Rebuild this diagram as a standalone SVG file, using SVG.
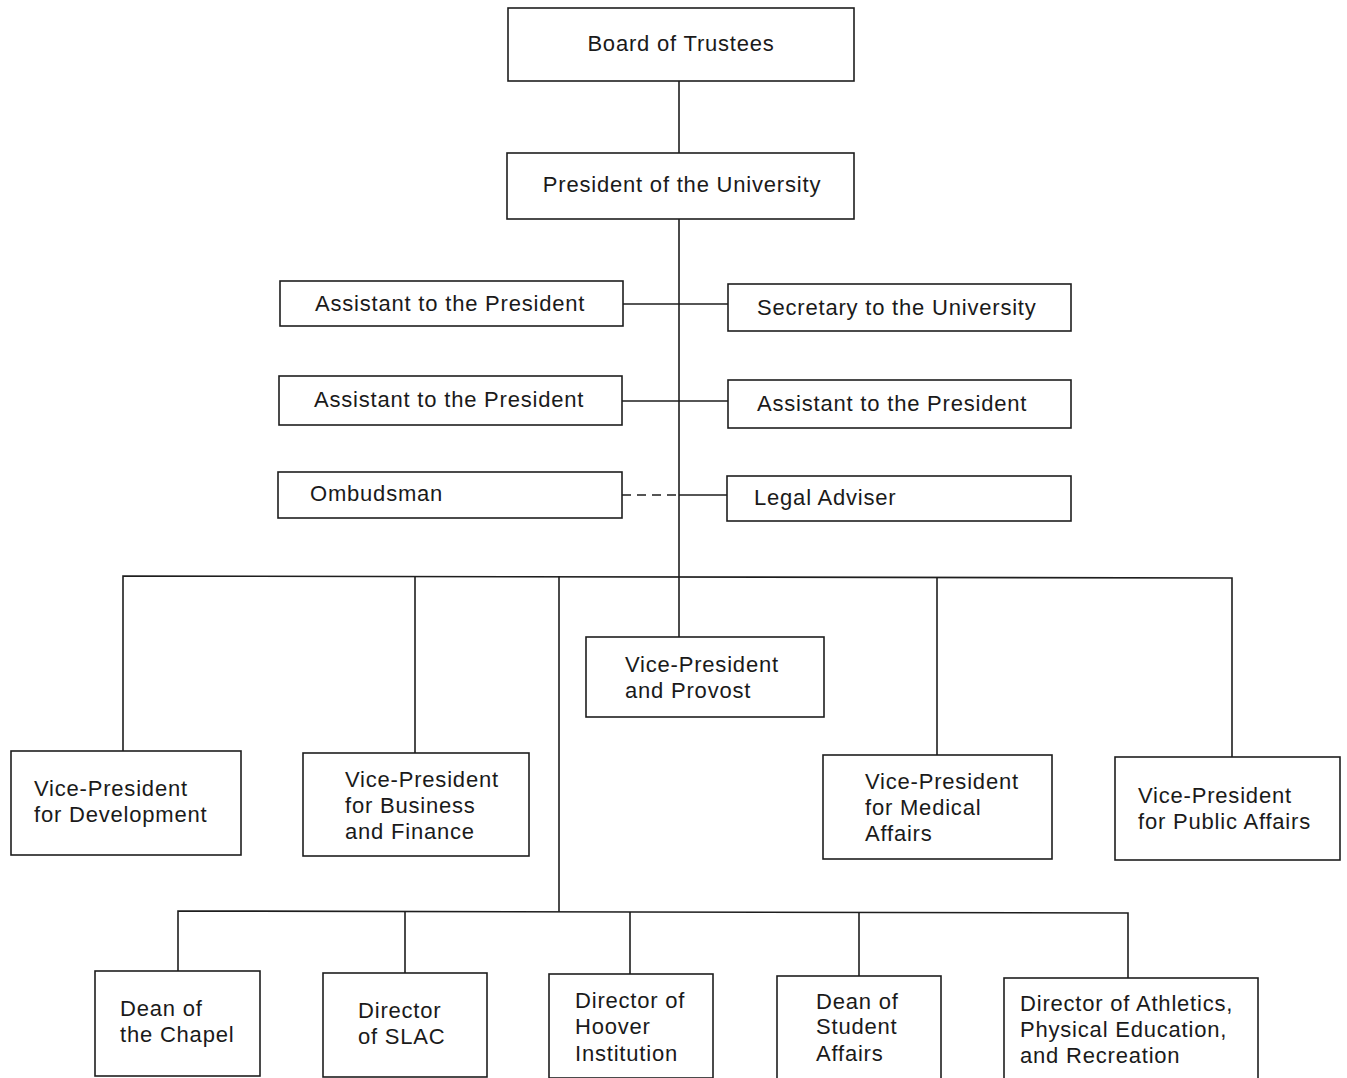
<svg xmlns="http://www.w3.org/2000/svg" width="1347" height="1078" viewBox="0 0 1347 1078">
<style>
  .box { fill: #ffffff; stroke: #1e1e1e; stroke-width: 1.6; }
  .lbl { font-family: "Liberation Sans", Arial, sans-serif; font-size: 22px; letter-spacing: 0.8px; fill: #1a1a1a; }
  .ln { fill: none; stroke: #1e1e1e; stroke-width: 1.6; }
  .dash { fill: none; stroke: #1e1e1e; stroke-width: 1.6; stroke-dasharray: 9 6; }
</style>
<rect width="1347" height="1078" fill="#ffffff"/>
<g id="connectors">
  <line class="ln" x1="679" y1="81" x2="679" y2="153"/>
  <line class="ln" x1="679" y1="219" x2="679" y2="637"/>
  <line class="ln" x1="623" y1="304" x2="728" y2="304"/>
  <line class="ln" x1="622" y1="401" x2="728" y2="401"/>
  <line class="dash" x1="622" y1="495" x2="679" y2="495"/>
  <line class="ln" x1="679" y1="495" x2="727" y2="495"/>
  <polyline class="ln" points="123,751 123,576 1232,578 1232,757"/>
  <line class="ln" x1="415" y1="576" x2="415" y2="753"/>
  <line class="ln" x1="559" y1="576" x2="559" y2="912"/>
  <line class="ln" x1="937" y1="577" x2="937" y2="755"/>
  <polyline class="ln" points="178,971 178,911 1128,913 1128,978"/>
  <line class="ln" x1="405" y1="911" x2="405" y2="973"/>
  <line class="ln" x1="630" y1="912" x2="630" y2="974"/>
  <line class="ln" x1="859" y1="912" x2="859" y2="976"/>
</g>
<g id="board">
  <rect class="box" x="508" y="8" width="346" height="73"/>
  <text class="lbl" x="681" y="51" text-anchor="middle">Board of Trustees</text>
</g>
<g id="president">
  <rect class="box" x="507" y="153" width="347" height="66"/>
  <text class="lbl" x="682" y="192" text-anchor="middle">President of the University</text>
</g>
<g id="assistant1">
  <rect class="box" x="280" y="281" width="343" height="45"/>
  <text class="lbl" x="315" y="311">Assistant to the President</text>
</g>
<g id="secretary">
  <rect class="box" x="728" y="284" width="343" height="47"/>
  <text class="lbl" x="757" y="315">Secretary to the University</text>
</g>
<g id="assistant2">
  <rect class="box" x="279" y="376" width="343" height="49"/>
  <text class="lbl" x="314" y="407">Assistant to the President</text>
</g>
<g id="assistant3">
  <rect class="box" x="728" y="380" width="343" height="48"/>
  <text class="lbl" x="757" y="411">Assistant to the President</text>
</g>
<g id="ombudsman">
  <rect class="box" x="278" y="472" width="344" height="46"/>
  <text class="lbl" x="310" y="501">Ombudsman</text>
</g>
<g id="legal">
  <rect class="box" x="727" y="476" width="344" height="45"/>
  <text class="lbl" x="754" y="505">Legal Adviser</text>
</g>
<g id="vp-development">
  <rect class="box" x="11" y="751" width="230" height="104"/>
  <text class="lbl" x="34" y="796">Vice-President</text>
  <text class="lbl" x="34" y="822">for Development</text>
</g>
<g id="vp-business">
  <rect class="box" x="303" y="753" width="226" height="103"/>
  <text class="lbl" x="345" y="787">Vice-President</text>
  <text class="lbl" x="345" y="813">for Business</text>
  <text class="lbl" x="345" y="839">and Finance</text>
</g>
<g id="vp-provost">
  <rect class="box" x="586" y="637" width="238" height="80"/>
  <text class="lbl" x="625" y="672">Vice-President</text>
  <text class="lbl" x="625" y="698">and Provost</text>
</g>
<g id="vp-medical">
  <rect class="box" x="823" y="755" width="229" height="104"/>
  <text class="lbl" x="865" y="789">Vice-President</text>
  <text class="lbl" x="865" y="815">for Medical</text>
  <text class="lbl" x="865" y="841">Affairs</text>
</g>
<g id="vp-public">
  <rect class="box" x="1115" y="757" width="225" height="103"/>
  <text class="lbl" x="1138" y="803">Vice-President</text>
  <text class="lbl" x="1138" y="829">for Public Affairs</text>
</g>
<g id="dean-chapel">
  <rect class="box" x="95" y="971" width="165" height="105"/>
  <text class="lbl" x="120" y="1016">Dean of</text>
  <text class="lbl" x="120" y="1042">the Chapel</text>
</g>
<g id="director-slac">
  <rect class="box" x="323" y="973" width="164" height="104"/>
  <text class="lbl" x="358" y="1018">Director</text>
  <text class="lbl" x="358" y="1044">of SLAC</text>
</g>
<g id="director-hoover">
  <rect class="box" x="549" y="974" width="164" height="104"/>
  <text class="lbl" x="575" y="1008">Director of</text>
  <text class="lbl" x="575" y="1034">Hoover</text>
  <text class="lbl" x="575" y="1061">Institution</text>
</g>
<g id="dean-student">
  <rect class="box" x="777" y="976" width="164" height="104"/>
  <text class="lbl" x="816" y="1009">Dean of</text>
  <text class="lbl" x="816" y="1034">Student</text>
  <text class="lbl" x="816" y="1061">Affairs</text>
</g>
<g id="director-athletics">
  <rect class="box" x="1004" y="978" width="254" height="104"/>
  <text class="lbl" x="1020" y="1011">Director of Athletics,</text>
  <text class="lbl" x="1020" y="1037">Physical Education,</text>
  <text class="lbl" x="1020" y="1063">and Recreation</text>
</g>
</svg>
